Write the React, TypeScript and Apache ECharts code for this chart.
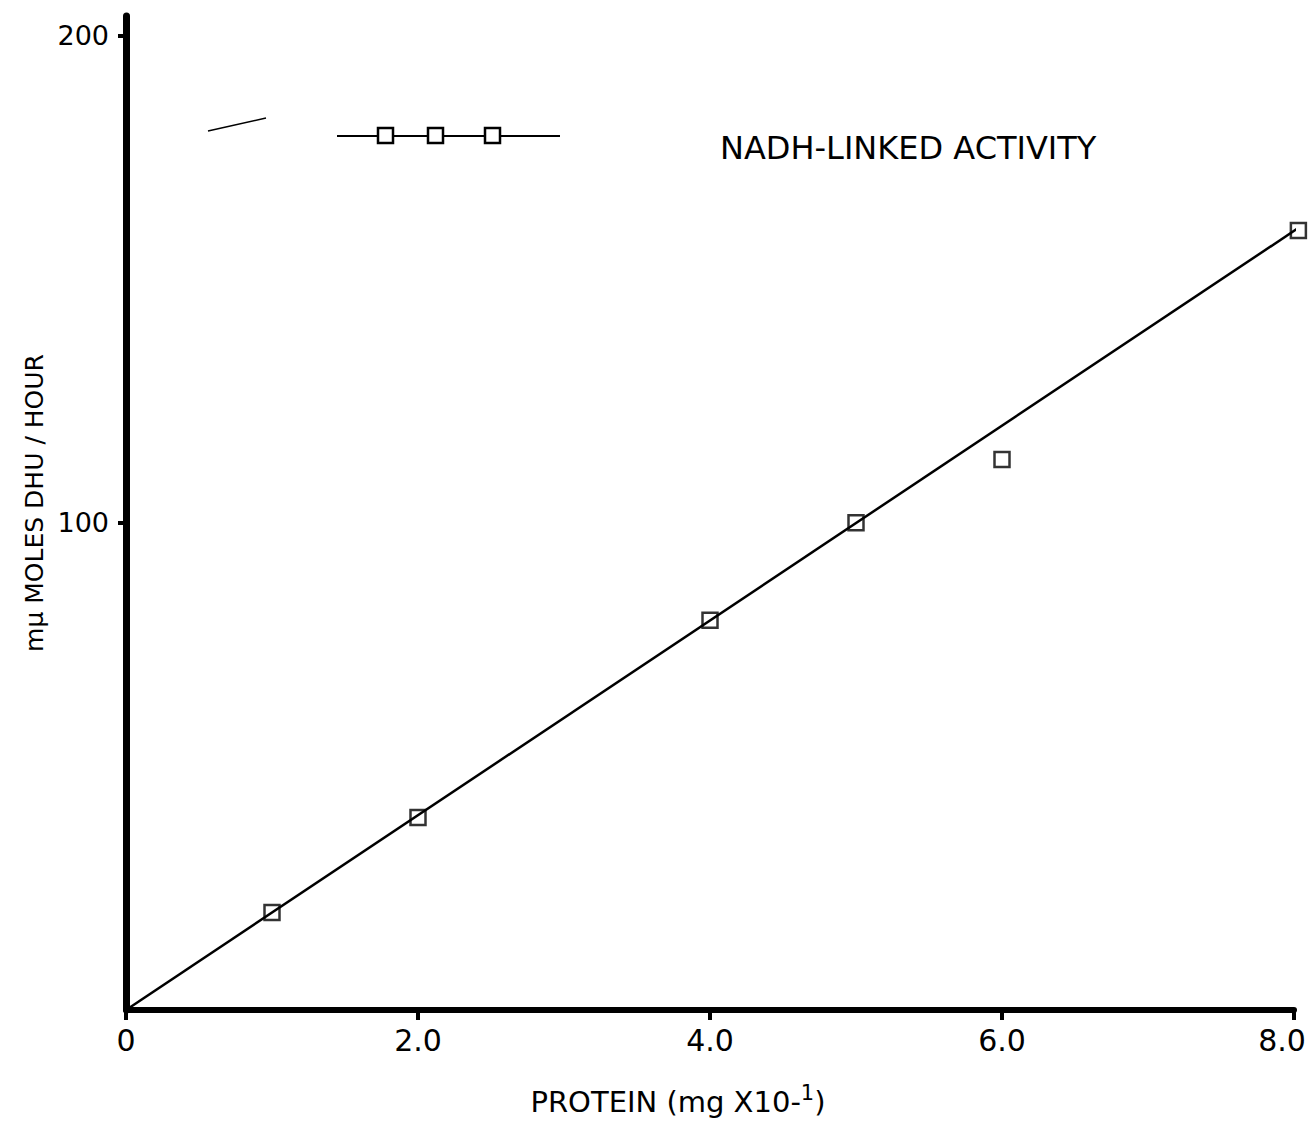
import React, { useEffect, useRef } from "react";
import * as echarts from "echarts";

const protein = [1.0, 2.0, 4.0, 5.0, 6.0, 8.03];
const activity = [20, 39.5, 80, 100, 113, 160];
const fitLine = [[0, 0], [8.03, 160.5]];
const xTicks = [0, 2, 4, 6, 8];
const yTicks = [100, 200];
const legendLabel = "NADH-LINKED ACTIVITY";
const xTitle = "PROTEIN (mg X10-{sup|1})";
const yTitle = "mμ MOLES DHU / HOUR";

const FONT = "DejaVu Sans";

export default function App() {
  const ref = useRef<HTMLDivElement>(null);
  useEffect(() => {
    document.body.style.margin = "0";
    const chart = echarts.init(ref.current!, null, { renderer: "svg" });
    const points = protein.map((x, i) => [x, activity[i]]);
    chart.setOption({
      animation: false,
      backgroundColor: "#ffffff",
      grid: { left: 126, right: 18, top: 16, bottom: 128, outerBoundsMode: "none", containLabel: false },
      xAxis: {
        type: "value",
        min: 0,
        max: 8,
        interval: 2,
        name: xTitle,
        nameLocation: "middle",
        nameGap: 72,
        nameTextStyle: {
          fontFamily: FONT,
          fontSize: 29,
          color: "#000",
          lineHeight: 40,
          padding: [0, 64, 0, 0],
          rich: { sup: { fontFamily: FONT, fontSize: 21, color: "#000", verticalAlign: "top" } },
        },
        axisLine: { lineStyle: { color: "#000", width: 6 } },
        axisTick: { show: true, length: 10, lineStyle: { color: "#000", width: 4 }, customValues: xTicks },
        axisLabel: {
          fontFamily: FONT,
          fontSize: 30,
          color: "#000",
          margin: 15,
          customValues: xTicks,
          formatter: (v: number) => (v === 0 ? "0" : v === 8 ? "{last|8.0}" : v.toFixed(1)),
          rich: { last: { fontFamily: FONT, fontSize: 30, color: "#000", padding: [0, 24, 0, 0] } },
        },
        splitLine: { show: false },
      },
      yAxis: {
        type: "value",
        min: 0,
        max: 204,
        name: yTitle,
        nameLocation: "middle",
        nameGap: 74,
        nameRotate: 90,
        nameTextStyle: { fontFamily: FONT, fontSize: 25, color: "#000", padding: [0, 0, 0, 20] },
        axisLine: { lineStyle: { color: "#000", width: 7 } },
        axisTick: { show: true, length: 8, lineStyle: { color: "#000", width: 4 }, customValues: yTicks },
        axisLabel: {
          fontFamily: FONT,
          fontSize: 27,
          color: "#000",
          margin: 17,
          customValues: yTicks,
          formatter: (v: number) => String(v),
        },
        splitLine: { show: false },
      },
      graphic: [
        { type: "line", shape: { x1: 208, y1: 131, x2: 266, y2: 118 }, style: { stroke: "#000", lineWidth: 1.5 } },
        { type: "line", shape: { x1: 337, y1: 136, x2: 560, y2: 136 }, style: { stroke: "#000", lineWidth: 2 } },
        { type: "rect", shape: { x: 378, y: 128, width: 15, height: 15 }, style: { fill: "#fff", stroke: "#000", lineWidth: 2.5 } },
        { type: "rect", shape: { x: 428, y: 128, width: 15, height: 15 }, style: { fill: "#fff", stroke: "#000", lineWidth: 2.5 } },
        { type: "rect", shape: { x: 485, y: 128, width: 15, height: 15 }, style: { fill: "#fff", stroke: "#000", lineWidth: 2.5 } },
        {
          type: "text",
          x: 720,
          y: 148,
          style: { text: legendLabel, fontFamily: FONT, fontSize: 32, fill: "#000", textVerticalAlign: "middle" },
        },
      ],
      series: [
        {
          type: "line",
          data: fitLine,
          symbol: "none",
          clip: false,
          lineStyle: { color: "#000", width: 2.5 },
        },
        {
          type: "scatter",
          data: points,
          symbol: "rect",
          symbolSize: 15,
          clip: false,
          itemStyle: { color: "#fff", borderColor: "#000", borderWidth: 2.5 },
        },
      ],
    });
    return () => chart.dispose();
  }, []);
  return <div ref={ref} style={{ width: 1312, height: 1138 }} />;
}
